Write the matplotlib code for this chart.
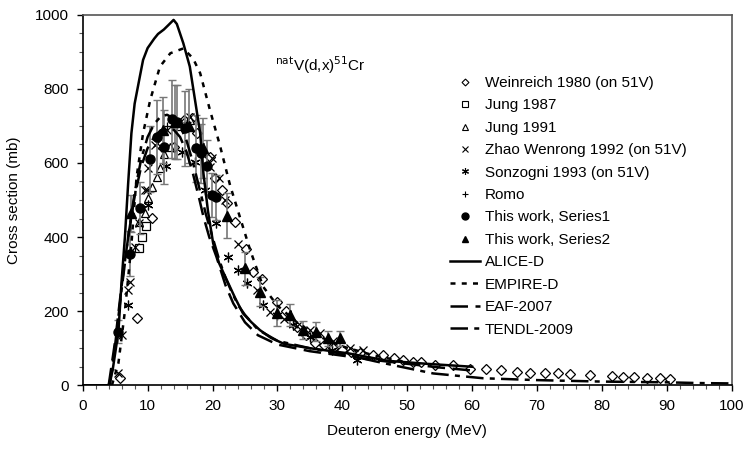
import matplotlib
matplotlib.use("Agg")
import matplotlib.pyplot as plt
from matplotlib.lines import Line2D

plt.rcParams['font.family'] = ['Liberation Sans', 'DejaVu Sans']

# model curves
alice_x = [0, 4.0, 4.6, 5.5, 6.0, 6.5, 7.0, 7.5, 8.0, 8.8, 9.3, 10, 11, 11.6, 12.5, 13.2, 14.0, 14.5, 15.5, 16.5,
           17.3, 18.1, 18.6, 19.3, 20.1, 21, 22.2, 23.5, 24.7, 26, 27.3, 29, 31, 35, 41, 47, 53, 60]
alice_y = [0, 0, 40, 145, 284, 400, 545, 680, 760, 833, 878, 910, 935, 948, 960, 972, 986, 975, 923, 860,
           770, 680, 572, 470, 383, 330, 284, 235, 194, 170, 149, 128, 112, 100, 86, 66, 58, 50]

empire_x = [4.5, 5.5, 6.5, 7.5, 8.3, 9.3, 10.4, 11.9, 13.5, 15.5, 17.0, 18.1, 19.6, 21.1, 22.7, 24.2, 25.8,
            27.8, 30, 33, 36, 40, 45, 50]
empire_y = [0, 60, 200, 380, 563, 680, 770, 860, 896, 909, 882, 842, 743, 650, 540, 455, 365,
            266, 215, 170, 135, 105, 80, 62]

eaf_x = [4.0, 5, 6, 7, 8, 9, 10, 11, 12, 13, 14, 15, 16, 17, 18, 18.6, 19.5, 20.6, 22, 23.2, 25, 27, 30,
         35, 40, 45, 50, 55, 60]
eaf_y = [0, 120, 270, 400, 510, 590, 640, 670, 688, 692, 690, 670, 630, 570, 500, 455, 400, 347, 270, 221,
         170, 135, 110, 92, 80, 68, 58, 48, 40]

tendl_x = [4.2, 5, 6, 7, 8, 9, 10, 11, 12, 13, 14, 15, 16, 17, 18, 19, 20, 21, 22, 23, 24, 25, 27, 30, 35,
           40, 45, 49, 54, 61.7, 65, 70, 75, 80, 85, 90, 95, 100]
tendl_y = [0, 110, 260, 400, 520, 610, 670, 705, 725, 730, 720, 700, 660, 600, 530, 460, 400, 340, 290, 250,
           215, 190, 150, 120, 100, 85, 65, 50, 32, 19, 17, 14, 12, 10, 9, 8, 6, 5]

# experimental data
weinreich_x = [5.7, 8.3, 10.6, 12.3, 14.0, 15.6, 16.8, 17.6, 19.6, 20.4, 21.4, 22.2, 23.5, 25.2, 26.2, 27.7,
               29.9, 31.3, 33.0, 34.4, 35.8, 37.2, 38.6, 40.0, 41.4, 42.7, 44.8, 46.3, 47.9, 49.4, 50.9, 52.2,
               54.3, 57.1, 59.7, 62.1, 64.5, 66.9, 68.9, 71.2, 73.3, 75.1, 78.2, 81.5, 83.3, 84.9, 86.9, 89.0,
               90.5]
weinreich_y = [20, 181, 451, 640, 644, 715, 720, 680, 617, 560, 527, 491, 441, 367, 305, 288,
               226, 200, 158, 135, 115, 110, 100, 95, 90, 86, 82, 82, 73, 68, 64, 64,
               55, 55, 43, 45, 41, 37, 34, 34, 34, 30, 28, 25, 22, 22, 19, 19, 17]

jung87_x = [8.7, 9.1, 9.8]
jung87_y = [370, 401, 430]

jung91_x = [8.6, 9.6, 10.1, 10.6, 11.4, 11.9, 12.5, 13.5, 15.0, 16.5]
jung91_y = [441, 464, 505, 536, 563, 585, 624, 644, 700, 715]

zhao_x = [5.5, 6.0, 7.0, 7.3, 8.1, 8.6, 9.6, 9.9, 10.1, 11.1, 11.4, 13.0, 15.0, 16.5, 18.1, 19.6, 19.9,
          21.0, 22.0, 24.0, 26.8, 28.9, 31.0, 33.0, 35.0, 36.6, 38.5, 41.2, 43.2]
zhao_y = [32, 136, 257, 280, 374, 437, 527, 527, 585, 648, 653, 690, 710, 725, 644, 590, 613,
          560, 500, 380, 257, 199, 180, 160, 149, 140, 120, 100, 95]

sonzogni_x = [7.0, 10.1, 12.9, 15.3, 17.3, 18.8, 20.6, 22.4, 24.0, 25.3, 27.8, 30.0, 32.4, 35.0, 38.4, 42.2]
sonzogni_y = [217, 486, 593, 630, 603, 527, 437, 347, 311, 275, 217, 190, 163, 130, 95, 68]

romo_x = [13.0, 16.0]
romo_y = [700, 710]

s1_x = [5.5, 7.3, 8.8, 10.3, 11.4, 12.6, 13.7, 14.6, 15.8, 17.5, 18.3, 19.1, 19.9, 20.6]
s1_y = [145, 355, 478, 611, 671, 644, 718, 711, 693, 639, 626, 592, 514, 507]
s1_err = [30, 60, 70, 90, 100, 100, 105, 100, 100, 90, 80, 70, 60, 60]

s2_x = [7.5, 12.4, 14.2, 16.3, 18.5, 22.3, 25.0, 27.3, 29.9, 31.9, 34.0, 36.0, 37.8, 39.6]
s2_y = [464, 689, 710, 700, 640, 458, 316, 253, 194, 190, 149, 145, 127, 127]
s2_err = [50, 90, 100, 100, 80, 60, 45, 40, 35, 30, 25, 25, 20, 20]

fig = plt.figure(figsize=(7.46, 4.51), dpi=100)
ax = fig.add_axes([0.1109, 0.1457, 0.8699, 0.8217])

asterisk = (6, 2, 0)

ax.plot(weinreich_x, weinreich_y, 'D', ms=5, mfc='white', mec='black', mew=0.9, zorder=3)
ax.plot(jung87_x, jung87_y, 's', ms=5.5, mfc='white', mec='black', mew=0.9, zorder=3)
ax.plot(jung91_x, jung91_y, '^', ms=6, mfc='white', mec='black', mew=0.9, zorder=3)
ax.plot(zhao_x, zhao_y, 'x', ms=6, color='black', mew=0.9, zorder=3)
ax.plot(sonzogni_x, sonzogni_y, marker=asterisk, ls='none', ms=7, color='black', mew=0.9, zorder=3)
ax.plot(romo_x, romo_y, '+', ms=6, color='black', mew=0.9, zorder=3)
ax.errorbar(s1_x, s1_y, yerr=s1_err, fmt='o', ms=6.5, color='black', ecolor='#777777',
            elinewidth=1.2, capsize=3, zorder=4)
ax.errorbar(s2_x, s2_y, yerr=s2_err, fmt='^', ms=6.5, color='black', ecolor='#777777',
            elinewidth=1.2, capsize=3, zorder=4)

ax.plot(alice_x, alice_y, '-', color='black', lw=1.8, zorder=5)
ax.plot(empire_x, empire_y, color='black', lw=1.8, dashes=(2, 2.5), zorder=5)
ax.plot(eaf_x, eaf_y, color='black', lw=1.8, dashes=(7, 3), zorder=5)
ax.plot(tendl_x, tendl_y, color='black', lw=1.8, dashes=(7, 2.5, 2, 2.5), zorder=5)

ax.set_xlim(0, 100)
ax.set_ylim(0, 1000)
ax.set_xticks(range(0, 101, 10))
ax.set_xticks(range(0, 101, 2), minor=True)
ax.set_yticks(range(0, 1001, 200))
ax.set_yticks(range(0, 1001, 50), minor=True)
ax.tick_params(axis='both', which='major', direction='out', length=4, width=1, labelsize=11, pad=6)
ax.tick_params(axis='both', which='minor', direction='out', length=3, width=0.8, color='#555555')
for side in ['top', 'right']:
    ax.spines[side].set_color('#555555')
    ax.spines[side].set_linewidth(1.2)
for side in ['left', 'bottom']:
    ax.spines[side].set_linewidth(1.2)

ax.set_xlabel('Deuteron energy (MeV)', fontsize=11, labelpad=8)
ax.set_ylabel('Cross section (mb)', fontsize=11, labelpad=10)

ax.text(29.6, 864, r'$^{\mathrm{nat}}$V(d,x)$^{51}$Cr', fontsize=11, va='center', ha='left')

# legend with plain markers (no error bars), in the original order
handles = [
    Line2D([], [], ls='none', marker='D', ms=3.5, mfc='white', mec='black', mew=0.8),
    Line2D([], [], ls='none', marker='s', ms=4, mfc='white', mec='black', mew=0.8),
    Line2D([], [], ls='none', marker='^', ms=4.5, mfc='white', mec='black', mew=0.8),
    Line2D([], [], ls='none', marker='x', ms=4.5, color='black', mew=0.8),
    Line2D([], [], ls='none', marker=asterisk, ms=5, color='black', mew=0.8),
    Line2D([], [], ls='none', marker='+', ms=5, color='black', mew=0.8),
    Line2D([], [], ls='none', marker='o', ms=5, color='black'),
    Line2D([], [], ls='none', marker='^', ms=5, color='black'),
    Line2D([], [], color='black', lw=1.8),
    Line2D([], [], color='black', lw=1.8, dashes=(2, 2.5)),
    Line2D([], [], color='black', lw=1.8, dashes=(7, 3)),
    Line2D([], [], color='black', lw=1.8, dashes=(7, 2.5, 2, 2.5)),
]
labels = ['Weinreich 1980 (on 51V)', 'Jung 1987', 'Jung 1991', 'Zhao Wenrong 1992 (on 51V)',
          'Sonzogni 1993 (on 51V)', 'Romo', 'This work, Series1', 'This work, Series2',
          'ALICE-D', 'EMPIRE-D', 'EAF-2007', 'TENDL-2009']
ax.legend(handles, labels, loc='upper left', bbox_to_anchor=(0.554, 0.855), frameon=False, fontsize=11,
          handlelength=2.0, handletextpad=0.3, labelspacing=0.55, borderpad=0)

fig.savefig('out.png', dpi=100)
